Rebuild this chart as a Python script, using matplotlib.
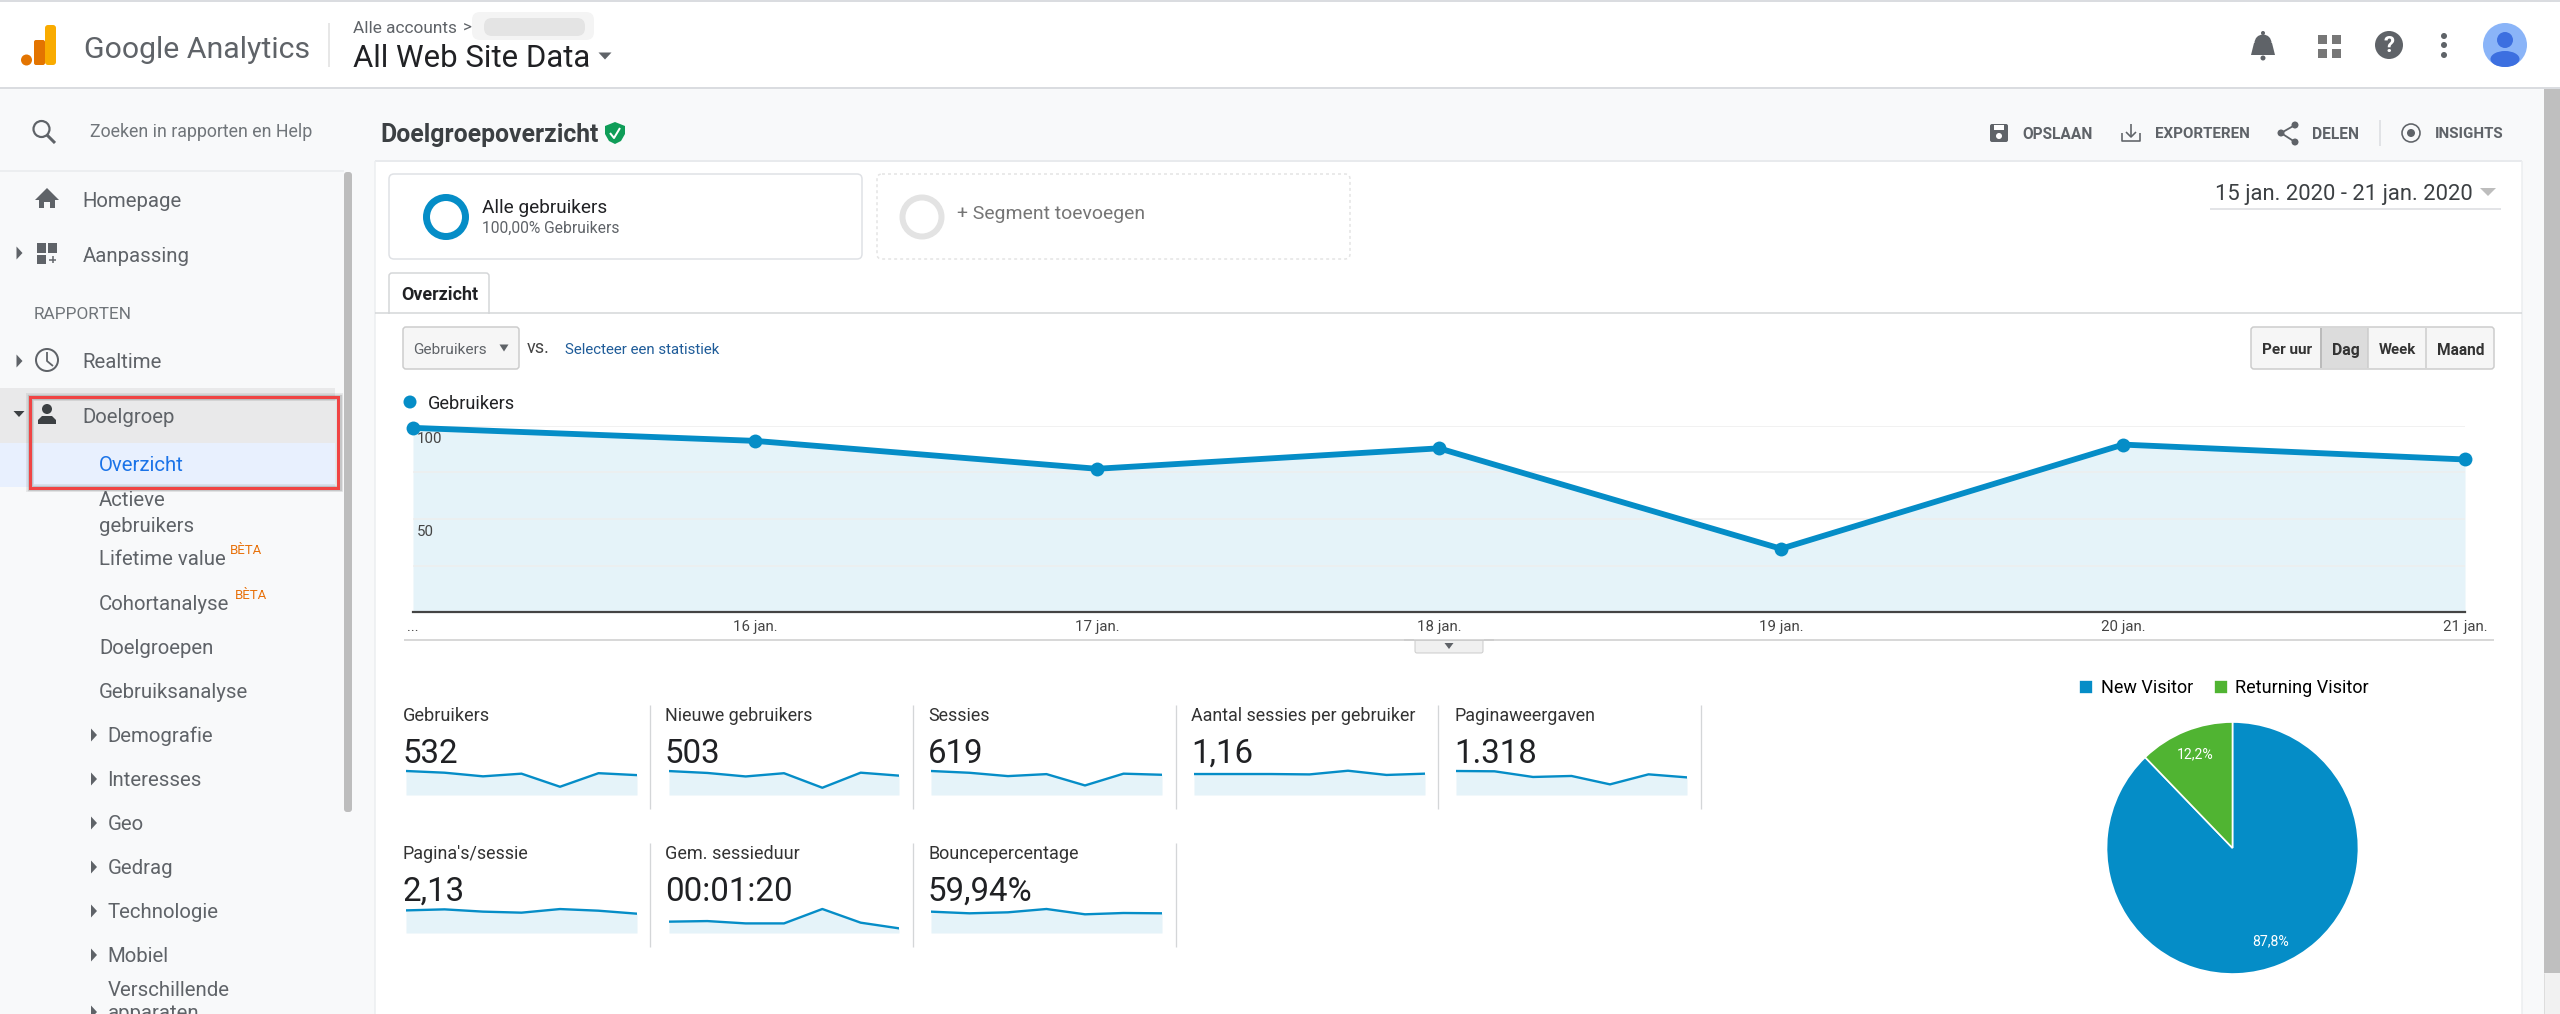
import numpy as np
import matplotlib
matplotlib.use('Agg')
import matplotlib.pyplot as plt
from matplotlib.patches import Rectangle, Circle, FancyBboxPatch, Polygon, Ellipse
from matplotlib.textpath import TextPath
from matplotlib.font_manager import FontProperties
from matplotlib.transforms import ScaledTranslation

# ---------- data ----------
days = ['...', '16 jan.', '17 jan.', '18 jan.', '19 jan.', '20 jan.', '21 jan.']
users_daily = [99, 92, 77, 88, 34, 90, 82]
y_ticks = [25, 50, 75, 100]
y_tick_labels = ['', '50', '', '100']

metric_names = ['Gebruikers', 'Nieuwe gebruikers', 'Sessies', 'Aantal sessies per gebruiker',
                'Paginaweergaven', "Pagina's/sessie", 'Gem. sessieduur', 'Bouncepercentage']
metric_totals = ['532', '503', '619', '1,16', '1.318', '2,13', '00:01:20', '59,94%']
spark_users = [99, 92, 77, 88, 34, 90, 82]
spark_new = [89, 82, 69, 81, 27, 83, 72]
spark_sessions = [108, 100, 85, 94, 43, 96, 91]
spark_per_user = [1.14, 1.14, 1.14, 1.12, 1.32, 1.09, 1.16]
spark_views = [237, 234, 178, 188, 105, 204, 174]
spark_pages = [2.19, 2.29, 2.07, 1.97, 2.32, 2.16, 1.87]
spark_duration = [78, 82, 66, 66, 165, 71, 32]
spark_bounce = [61.9, 57.1, 60.0, 69.6, 54.2, 58.0, 57.1]
spark_tops = [132, 119, 144, 1.74, 316, 3.10, 220, 92.8]

pie_labels = ['New Visitor', 'Returning Visitor']
pie_values = [87.8, 12.2]

# ---------- colours ----------
BLUE = '#058dc7'
FILL = '#e5f3f9'
GREEN = '#50b432'
PAGE = '#f8f9fa'
INK = '#202124'
GREY = '#5f6368'
ICON = '#5f6368'

W, H = 2560, 1014
plt.rcParams['font.family'] = ['Roboto', 'DejaVu Sans']
fig = plt.figure(figsize=(W / 100, H / 100), dpi=100, facecolor=PAGE)
ui = fig.add_axes([0, 0, 1, 1], zorder=0)
ui.set_xlim(0, W)
ui.set_ylim(H, 0)
ui.axis('off')


def T(x, yc, s, size=None, x1=None, color=INK, weight='normal', ha='left'):
    """Text with its cap-height centre at yc; size in px, or fitted to run from x to x1."""
    if x1 is not None:
        fp = FontProperties(family='Roboto', weight=weight)
        size = 100 * (x1 - x) / TextPath((0, 0), s, size=100, prop=fp).get_extents().width
    ui.text(x, yc + 0.355 * size, s, fontsize=size * 0.72, color=color, weight=weight,
            ha=ha, va='baseline')


def R(x0, y0, x1, y1, fc, ec='none', lw=0, z=1, **k):
    ui.add_patch(Rectangle((x0, y0), x1 - x0, y1 - y0, fc=fc, ec=ec, lw=lw * 0.72, zorder=z, **k))


def RR(x0, y0, x1, y1, fc, ec='none', lw=0, r=4, z=1, **k):
    ui.add_patch(FancyBboxPatch((x0 + r, y0 + r), x1 - x0 - 2 * r, y1 - y0 - 2 * r,
                                boxstyle=f'round,pad={r},rounding_size={r}',
                                fc=fc, ec=ec, lw=lw * 0.72, zorder=z, **k))


def L(xs, ys, c, lw=1, z=2, **k):
    ui.plot(xs, ys, color=c, lw=lw * 0.72, zorder=z, solid_capstyle=k.pop('cap', 'butt'), **k)


def tri(x, y, w, h, c, d='down', z=3):
    if d == 'down':
        pts = [(x - w / 2, y - h / 2), (x + w / 2, y - h / 2), (x, y + h / 2)]
    else:
        pts = [(x - h / 2, y - w / 2), (x - h / 2, y + w / 2), (x + h / 2, y)]
    ui.add_patch(Polygon(pts, fc=c, ec='none', zorder=z))


def C(x, y, r, fc='none', ec='none', lw=0, z=3):
    ui.add_patch(Circle((x, y), r, fc=fc, ec=ec, lw=lw * 0.72, zorder=z))


# ---------- page structure ----------
R(0, 0, W, 88, 'white')
L([0, W], [0.5, 0.5], '#dadce0', 2)
L([0, W], [88, 88], '#dadce0', 2)
R(375, 161, 2522, H, 'white')
L([375, 2522], [161, 161], '#e8eaed', 2)
L([375, 375], [161, H], '#eceef0', 1.5)
L([2522, 2522], [161, H], '#eceef0', 1.5)
R(2544, 89, W, 973, '#bfbfbf')
R(2544, 973, W, H, '#f1f1f1')
L([2544, 2544], [973, H], '#dddddd', 1)
L([0, 344], [171, 171], '#eceef0', 2)
RR(344, 172, 352, 812, '#bdbdbd', r=3)

# ---------- header ----------
C(26.5, 60, 5.5, fc='#e37400')
RR(34, 40, 45, 65, '#e37400', r=2)
RR(45, 25, 56, 65, '#f9ab00', r=3)
T(83.5, 47, 'Google Analytics', x1=306, color=GREY)
L([329, 329], [23, 67], '#e0e0e0', 1.5)
T(353, 27, 'Alle accounts', x1=456, color=GREY)
T(463, 27, '>', 17, color=GREY)
RR(472, 12, 594, 40, '#f4f4f4', r=8)
RR(484, 18, 585, 36, '#e4e4e4', r=8)
T(353, 56, 'All Web Site Data', x1=588, color=INK)
tri(605, 56, 13, 7, GREY)

C(2263, 43, 8.5, fc=ICON)
ui.add_patch(Polygon([(2254, 43), (2272, 43), (2275, 55), (2251, 55)], fc=ICON, ec='none', zorder=3))
C(2263, 58, 2.5, fc=ICON)
C(2263, 33, 2, fc=ICON)
for gx in (2318, 2332):
    for gy in (35, 49):
        R(gx, gy, gx + 9, gy + 9, '#777777', z=3)
C(2389, 45, 14, fc=ICON)
ui.text(2389, 45.5, '?', fontsize=16, color='white', weight='bold', ha='center', va='center', zorder=4)
for dy in (36, 45, 55):
    C(2444, dy, 3, fc=ICON)
C(2505, 45, 22, fc='#8ab4f8')
C(2505, 40, 8, fc='#3c6fe0', z=4)
ui.add_patch(Ellipse((2505, 59), 29, 16, fc='#3c6fe0', ec='none', zorder=4))

# ---------- side bar ----------
C(41.5, 129, 8, ec=GREY, lw=2.2)
L([47, 55], [135, 143], GREY, 3, z=3)
T(89.5, 131, 'Zoeken in rapporten en Help', x1=311, color='#70757a')

R(0, 388, 335, 443, '#e9e9ea', z=1)
R(0, 443, 335, 487, '#e8f0fe', z=1)
for a, b in [(2.5, .10), (1.2, .22)]:
    ui.add_patch(Rectangle((30, 397), 309, 91, fc='none', ec='#555555', lw=(3 + 2 * a) * .72, alpha=b, zorder=4))
ui.add_patch(Rectangle((30, 397), 308, 91, fc='none', ec='#f04444', lw=3 * .72, zorder=5))

SB = 20.4
for y, s in [(200, 'Homepage'), (255, 'Aanpassing'), (361, 'Realtime'), (416, 'Doelgroep')]:
    T(82.5, y, s, SB, color=GREY)
T(33.5, 313, 'RAPPORTEN', x1=129, color='#70757a')
T(99, 464, 'Overzicht', SB, color='#1a73e8')
for y, s in [(499, 'Actieve'), (525, 'gebruikers'), (558, 'Lifetime value'), (603, 'Cohortanalyse'),
             (647, 'Doelgroepen'), (691, 'Gebruiksanalyse')]:
    T(99, y, s, SB, color=GREY)
T(230, 549, 'BÈTA', x1=261, color='#e8710a')
T(235, 594, 'BÈTA', x1=266, color='#e8710a')
for y, s in [(735, 'Demografie'), (779, 'Interesses'), (823, 'Geo'), (867, 'Gedrag'),
             (911, 'Technologie'), (955, 'Mobiel'), (989, 'Verschillende'), (1012, 'apparaten')]:
    T(107.5, y, s, SB, color=GREY)
    if s != 'Verschillende':
        tri(94, y, 13, 6, GREY, 'right')
for y in (253, 361):
    tri(19.5, y, 13, 6, GREY, 'right')
tri(19, 414, 11, 6, '#3c4043')

ui.add_patch(Polygon([(47, 188), (59, 200), (55, 200), (55, 208), (50, 208), (50, 202), (44, 202),
                      (44, 208), (39, 208), (39, 200), (35, 200)], fc=GREY, ec='none', zorder=3))
R(37, 243, 46, 253, GREY, z=3)
R(48, 243, 57, 253, GREY, z=3)
R(37, 255, 46, 264, GREY, z=3)
L([49, 56], [259.5, 259.5], GREY, 1.5, z=3)
L([52.5, 52.5], [256, 263], GREY, 1.5, z=3)
C(47, 360, 11, ec=GREY, lw=2)
L([47, 47, 53], [352, 361, 366], GREY, 1.8, z=3)
C(47, 409, 5, fc='#3c4043')
ui.add_patch(Polygon([(38, 424), (38, 420), (42, 416), (52, 416), (56, 420), (56, 424)],
                     fc='#3c4043', ec='none', zorder=6))

# ---------- title row ----------
T(380, 133, 'Doelgroepoverzicht', x1=596, color='#3c4043', weight='bold')
ui.add_patch(Polygon([(615, 122), (625, 126), (625, 134), (621, 141), (615, 144), (609, 141), (605, 134),
                      (605, 126)], fc='#0f9d58', ec='none', zorder=3))
L([610, 614, 620], [133, 138, 128], 'white', 2, z=4)
GR = '#5f6368'
RR(1990, 124, 2008, 142, GR, r=2)
R(1994, 125, 2004, 130, 'white', z=3)
C(1999, 136, 3, fc='white')
L([2122, 2122, 2140, 2140], [133, 141, 141, 133], GR, 1.6)
L([2131, 2131], [124, 137], GR, 1.6)
L([2126, 2131, 2136], [132, 137, 132], GR, 1.6)
L([2295, 2281, 2295], [125, 133, 142], GR, 1.8)
C(2295, 125, 3.5, fc=GR)
C(2281, 133, 3.5, fc=GR)
C(2295, 142, 3.5, fc=GR)
C(2411, 133, 9, ec=GR, lw=1.6)
C(2411, 133, 4, fc=GR)
for s, a, b in [('OPSLAAN', 2022, 2091), ('EXPORTEREN', 2155, 2248), ('DELEN', 2312, 2357), ('INSIGHTS', 2435, 2502)]:
    T(a, 133, s, x1=b, color=GR, weight='bold')
L([2380, 2380], [120, 146], '#dadce0', 1.5)

# ---------- segments ----------
RR(389, 174, 862, 259, 'white', ec='#dfe1e5', lw=1.5, r=5)
C(446, 217, 19.5, ec=BLUE, lw=7)
T(481.5, 206, 'Alle gebruikers', x1=606, color=INK)
T(481.5, 227, '100,00% Gebruikers', x1=617, color=GREY)
RR(877, 174, 1350, 259, 'white', ec='#e4e4e4', lw=1.5, r=5, ls=(0, (2, 2)))
C(922, 217, 19.5, ec='#e3e3e3', lw=6)
T(957, 212, '+ Segment toevoegen', x1=1143, color='#757575')
T(2215, 192, '15 jan. 2020 - 21 jan. 2020', x1=2470, color='#3c4043')
tri(2488, 192, 16, 8, '#bdbdbd')
L([2210, 2501], [209, 209], '#dadce0', 1.5)

# ---------- tab and controls ----------
L([375, 2522], [313, 313], '#d4d6d8', 1.5)
RR(389, 273, 489, 320, 'white', ec='#d4d6d8', lw=1.5, r=3)
R(387, 314, 491, 322, 'white', z=2)
T(401, 294, 'Overzicht', x1=477, color=INK, weight='bold')
RR(403, 327, 519, 369, '#f6f6f6', ec='#cccccc', lw=1.5, r=3)
T(413, 349, 'Gebruikers', x1=485, color=GREY)
tri(504, 348, 9, 7, GREY)
T(527, 347, 'vs.', x1=548, color='#444444')
T(565, 349, 'Selecteer een statistiek', x1=720, color='#1f5c99')
RR(2251, 327, 2494, 369, '#f6f6f6', ec='#cccccc', lw=1.5, r=3)
R(2321, 328, 2368, 368, '#dcdcdc', z=2)
L([2321, 2321], [328, 368], '#bbbbbb', 2, z=3)
L([2368, 2368], [328, 368], '#cccccc', 1.5, z=3)
L([2426, 2426], [328, 368], '#cccccc', 1.5, z=3)
for s, a, b in [('Per uur', 2262, 2311), ('Dag', 2332, 2358), ('Week', 2379, 2416), ('Maand', 2437, 2483)]:
    T(a, 349, s, x1=b, color='#333333', weight='bold')

# ---------- main chart ----------
C(410, 402, 6.5, fc=BLUE)
T(428, 403, 'Gebruikers', x1=513, color=INK)
L([404, 2494], [640, 640], '#cccccc', 1.5)
RR(1415, 636, 1483, 653, '#f0f0f0', ec='#cccccc', lw=1, r=2)
R(1414, 630, 1484, 640, 'white', z=2)
L([1404, 1494], [640, 640], '#cccccc', 1.5, z=3)
tri(1449, 646, 9, 6, GREY)


def fax(x0, y0, x1, y1, **k):
    a = fig.add_axes([x0 / W, 1 - y1 / H, (x1 - x0) / W, (y1 - y0) / H], zorder=2, **k)
    a.patch.set_alpha(0)
    return a


ax = fax(413, 426, 2465, 612)
xs = np.arange(len(days))
ax.fill_between(xs, users_daily, 0, color=FILL, lw=0, zorder=1)
ax.plot(xs, users_daily, color=BLUE, lw=4.2, marker='o', ms=10, mew=0, clip_on=False, zorder=3)
ax.set_xlim(0, 6)
ax.set_ylim(0, 100)
ax.set_xticks(xs, days, fontsize=15 * .72, color='#444444')
ax.set_yticks(y_ticks, y_tick_labels, fontsize=15 * .72, color='#444444', ha='left')
ax.tick_params(axis='both', length=0)
ax.tick_params(axis='x', pad=5.5)
ax.tick_params(axis='y', pad=-3)
for lab in ax.get_yticklabels():
    lab.set_transform(lab.get_transform() + ScaledTranslation(0, -12 / 100, fig.dpi_scale_trans))
ax.grid(axis='y', color='#eeeeee', lw=1.1, zorder=2)
ax.set_axisbelow(False)
for sp in ('top', 'left', 'right'):
    ax.spines[sp].set_visible(False)
ax.spines['bottom'].set_color('#444444')
ax.spines['bottom'].set_linewidth(1.6)

# ---------- metric tiles ----------
sparks = [spark_users, spark_new, spark_sessions, spark_per_user, spark_views,
          spark_pages, spark_duration, spark_bounce]
tile_lab = [403, 665, 928, 1191, 1454]
tile_l = [406, 669, 931, 1194, 1456]
tile_r = [637, 899, 1162, 1425, 1687]
tile_div = [650, 913, 1176, 1438, 1701]
rows = [(715, 751, 795, 705, 809), (853, 889, 933, 843, 947)]
fit_w = [85, 145, 60, 224, 139, 124, 133, 148]
for i, name in enumerate(metric_names):
    col, row = (i, 0) if i < 5 else (i - 5, 1)
    yl, yv, yb, d0, d1 = rows[row]
    T(tile_lab[col], yl, name, x1=tile_lab[col] + fit_w[i], color='#333333')
    T(tile_lab[col], yv, metric_totals[i], 33, color=INK)
    L([tile_div[col]] * 2, [d0, d1], '#d4d6d8', 1.3)
    a = fax(tile_l[col], yb - 32, tile_r[col], yb)
    a.fill_between(range(7), sparks[i], 0, color=FILL, lw=0)
    a.plot(range(7), sparks[i], color=BLUE, lw=1.7)
    a.set_xlim(0, 6)
    a.set_ylim(0, spark_tops[i])
    a.axis('off')

# ---------- pie ----------
pa = fax(2232.5 - 126, 848 - 126, 2232.5 + 126, 848 + 126)
wedges, _, autos = pa.pie(pie_values, colors=[BLUE, GREEN], startangle=90, counterclock=False, radius=1,
                          autopct=lambda p: f'{p:.1f}%'.replace('.', ','), pctdistance=0.8,
                          wedgeprops=dict(edgecolor='white', linewidth=1.2),
                          textprops=dict(color='white', fontsize=14 * .72))
pa.set_xlim(-1, 1)
pa.set_ylim(-1, 1)
fig.legend(wedges, pie_labels, loc='center left', bbox_to_anchor=(2079 / W, 1 - 688 / H), ncol=2, frameon=False,
           fontsize=18 * .72, handlelength=0.8, handleheight=0.8, handletextpad=0.4, columnspacing=1.15,
           borderpad=0, borderaxespad=0)

fig.savefig('out.png', dpi=100, facecolor=PAGE)
